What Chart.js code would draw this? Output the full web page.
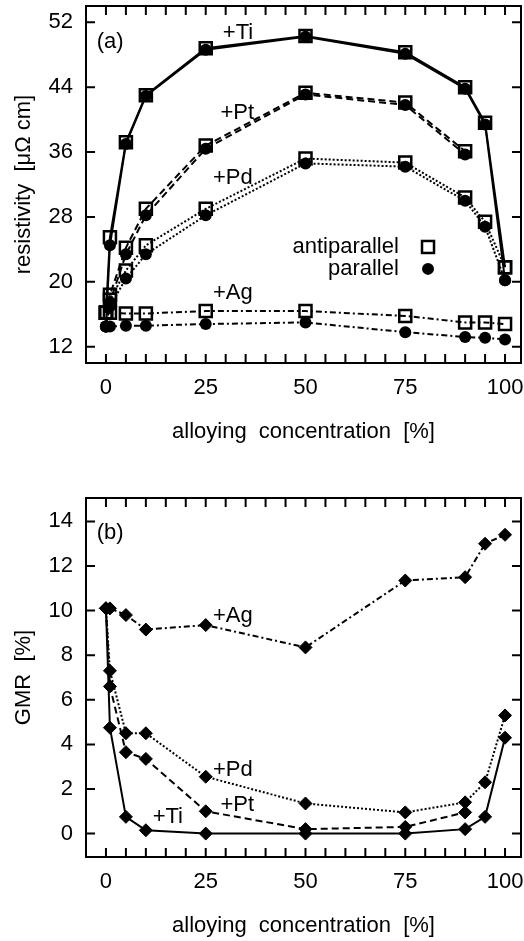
<!DOCTYPE html>
<html>
<head>
<meta charset="utf-8">
<script src="https://cdn.jsdelivr.net/npm/chart.js@4.4.0/dist/chart.umd.min.js"></script>
<style>
  html, body { margin: 0; padding: 0; background: #fff; }
  #wrap { position: relative; width: 524px; height: 941px; }
  canvas { position: absolute; left: 0; }
  #top { top: 0; }
  #bottom { top: 470px; }
</style>
</head>
<body>
<div id="wrap">
  <canvas id="top" width="524" height="470"></canvas>
  <canvas id="bottom" width="524" height="471"></canvas>
</div>
<script>
// concentrations [%]
const xFull = [0, 1, 5, 10, 25, 50, 75, 90, 95, 100];
const xPt = [0, 1, 5, 10, 25, 50, 75, 90];

// (a) resistivity [µΩ cm], antiparallel / parallel
const tiAP = [16.2, 25.5, 37.2, 43.0, 48.8, 50.3, 48.3, 44.0, 39.6, 21.8];
const tiP  = [14.5, 24.5, 37.0, 42.9, 48.6, 50.2, 48.1, 43.8, 39.4, 20.2];
const ptAP = [16.2, 18.4, 24.2, 29.0, 36.8, 43.3, 42.1, 36.1];
const ptP  = [14.5, 17.5, 23.4, 28.2, 36.4, 43.1, 41.8, 35.7];
const pdAP = [16.2, 17.8, 21.4, 24.5, 29.0, 35.2, 34.7, 30.4, 27.4, 21.8];
const pdP  = [14.5, 17.0, 20.4, 23.4, 28.2, 34.6, 34.2, 30.0, 26.8, 20.2];
const agAP = [16.2, 16.2, 16.1, 16.1, 16.4, 16.4, 15.8, 15.0, 15.0, 14.8];
const agP  = [14.5, 14.5, 14.6, 14.6, 14.8, 15.0, 13.8, 13.2, 13.1, 12.9];

// (b) GMR [%]
const gmrAg = [10.1, 10.1, 9.8, 9.15, 9.35, 8.35, 11.35, 11.5, 13.0, 13.4];
const gmrPd = [10.1, 7.3, 4.5, 4.5, 2.55, 1.35, 0.95, 1.4, 2.3, 5.3];
const gmrPt = [10.1, 6.6, 3.65, 3.35, 1.0, 0.2, 0.3, 0.95];
const gmrTi = [10.1, 4.75, 0.75, 0.15, 0.0, 0.0, 0.0, 0.2, 0.75, 4.3];

// tick labels
const xTicks = [0, 25, 50, 75, 100];
const xMinorTicks = [0, 5, 10, 15, 20, 25, 30, 35, 40, 45, 50, 55, 60, 65, 70, 75, 80, 85, 90, 95, 100];
const yTicksTop = [12, 20, 28, 36, 44, 52];
const yTicksBottom = [0, 2, 4, 6, 8, 10, 12, 14];

const FONT = '"Liberation Sans", Arial, Helvetica, sans-serif';
Chart.defaults.font.family = FONT;
Chart.defaults.font.size = 22;
Chart.defaults.color = '#000';

const DASH = { Ti: [], Pt: [7, 4], Pd: [2, 2], Ag: [6, 3, 2, 3] };

function pts(xs, ys) {
    return ys.map((y, i) => ({ x: xs[i], y: y }));
}

function apSet(xs, ys, dash) {
    return {
        data: pts(xs, ys), borderColor: '#000', borderWidth: 2, borderDash: dash,
        pointStyle: 'rect', pointRadius: 8.5, pointBorderWidth: 2.5,
        pointBorderColor: '#000', pointBackgroundColor: 'rgba(0,0,0,0)', tension: 0
    };
}
function pSet(xs, ys, dash) {
    return {
        data: pts(xs, ys), borderColor: '#000', borderWidth: 2, borderDash: dash,
        pointStyle: 'circle', pointRadius: 6, pointBorderWidth: 0,
        pointBackgroundColor: '#000', tension: 0
    };
}
function gSet(xs, ys, dash) {
    return {
        data: pts(xs, ys), borderColor: '#000', borderWidth: 2, borderDash: dash,
        pointStyle: 'rectRot', pointRadius: 6.5, pointBorderWidth: 1,
        pointBorderColor: '#000', pointBackgroundColor: '#000', tension: 0
    };
}

// no label padding, so the plot box sits exactly where the layout says
function noPad(s) {
    s.paddingTop = 0; s.paddingBottom = 0; s.paddingLeft = 0; s.paddingRight = 0;
}

// frame, inward ticks, labels, legend, axis titles
const framePlugin = {
    id: 'frame',
    afterDatasetsDraw(chart, args, opts) {
        const { ctx, chartArea: a, scales } = chart;
        const sx = scales.x, sy = scales.y;
        ctx.save();
        ctx.strokeStyle = '#000';
        ctx.lineWidth = 2;
        ctx.setLineDash([]);
        ctx.strokeRect(a.left, a.top, a.right - a.left, a.bottom - a.top);
        ctx.beginPath();
        xMinorTicks.forEach(v => {
            const px = sx.getPixelForValue(v);
            ctx.moveTo(px, a.bottom); ctx.lineTo(px, a.bottom - 9);
            ctx.moveTo(px, a.top); ctx.lineTo(px, a.top + 9);
        });
        opts.yTicks.forEach(v => {
            const py = sy.getPixelForValue(v);
            ctx.moveTo(a.left, py); ctx.lineTo(a.left + 9, py);
            ctx.moveTo(a.right, py); ctx.lineTo(a.right - 9, py);
        });
        ctx.stroke();

        ctx.fillStyle = '#000';
        ctx.font = '22px ' + FONT;
        ctx.textBaseline = 'middle';
        opts.labels.forEach(l => {
            ctx.textAlign = l.align || 'center';
            ctx.fillText(l.text, sx.getPixelForValue(l.x), sy.getPixelForValue(l.y));
        });

        if (opts.legend) {
            const lg = opts.legend;
            const tx = sx.getPixelForValue(lg.x), mx = sx.getPixelForValue(lg.mx);
            const y1 = sy.getPixelForValue(lg.y1), y2 = sy.getPixelForValue(lg.y2);
            ctx.textAlign = 'right';
            ctx.fillText('antiparallel', tx, y1);
            ctx.fillText('parallel', tx, y2);
            ctx.lineWidth = 2.5;
            ctx.strokeRect(mx - 6, y1 - 6, 12, 12);
            ctx.beginPath();
            ctx.arc(mx, y2, 6, 0, Math.PI * 2);
            ctx.fill();
        }

        // axis titles
        ctx.textAlign = 'center';
        ctx.fillText('alloying  concentration  [%]', (a.left + a.right) / 2, a.bottom + 69);
        ctx.save();
        ctx.translate(24, (a.top + a.bottom) / 2);
        ctx.rotate(-Math.PI / 2);
        ctx.fillText(opts.yTitle, 0, 0);
        ctx.restore();
        ctx.restore();
    }
};

function makeOptions(yMin, yMax, yTicks, padTop, xAxisHeight, frame) {
    return {
        responsive: false,
        animation: false,
        layout: { autoPadding: false, padding: { top: padTop, right: 3, left: 0, bottom: 0 } },
        plugins: { legend: { display: false }, tooltip: { enabled: false }, frame: frame },
        scales: {
            x: {
                type: 'linear', min: -5, max: 104,
                grid: { display: false, drawTicks: false }, border: { display: false },
                afterBuildTicks: s => { s.ticks = xTicks.map(v => ({ value: v })); },
                afterFit: s => { s.height = xAxisHeight; noPad(s); },
                ticks: { padding: 12, maxRotation: 0, autoSkip: false }
            },
            y: {
                type: 'linear', min: yMin, max: yMax,
                grid: { display: false, drawTicks: false }, border: { display: false },
                afterBuildTicks: s => { s.ticks = yTicks.map(v => ({ value: v })); },
                afterFit: s => { s.width = 86; noPad(s); },
                ticks: { padding: 13, autoSkip: false }
            }
        }
    };
}

new Chart(document.getElementById('top'), {
    type: 'line',
    data: {
        datasets: [
            apSet(xFull, tiAP, DASH.Ti), pSet(xFull, tiP, DASH.Ti),
            apSet(xPt, ptAP, DASH.Pt), pSet(xPt, ptP, DASH.Pt),
            apSet(xFull, pdAP, DASH.Pd), pSet(xFull, pdP, DASH.Pd),
            apSet(xFull, agAP, DASH.Ag), pSet(xFull, agP, DASH.Ag)
        ]
    },
    options: makeOptions(10, 54, yTicksTop, 6, 107, {
        yTicks: yTicksTop,
        yTitle: 'resistivity  [μΩ cm]',
        labels: [
            { text: '(a)', x: -2.3, y: 49.6, align: 'left' },
            { text: '+Ti', x: 33.1, y: 50.7 },
            { text: '+Pt', x: 32.9, y: 40.8 },
            { text: '+Pd', x: 31.8, y: 32.8 },
            { text: '+Ag', x: 31.8, y: 18.6 }
        ],
        legend: { x: 73.4, mx: 80.7, y1: 24.3, y2: 21.6 }
    }),
    plugins: [framePlugin]
});

new Chart(document.getElementById('bottom'), {
    type: 'line',
    data: {
        datasets: [
            gSet(xFull, gmrAg, DASH.Ag),
            gSet(xFull, gmrPd, DASH.Pd),
            gSet(xPt, gmrPt, DASH.Pt),
            gSet(xFull, gmrTi, DASH.Ti)
        ]
    },
    options: makeOptions(-1.05, 15.05, yTicksBottom, 28, 84, {
        yTicks: yTicksBottom,
        yTitle: 'GMR  [%]',
        labels: [
            { text: '(b)', x: -2.3, y: 13.5, align: 'left' },
            { text: '+Ag', x: 31.8, y: 9.76 },
            { text: '+Pd', x: 31.8, y: 2.85 },
            { text: '+Pt', x: 32.9, y: 1.28 },
            { text: '+Ti', x: 15.5, y: 0.74 }
        ]
    }),
    plugins: [framePlugin]
});
</script>
</body>
</html>
